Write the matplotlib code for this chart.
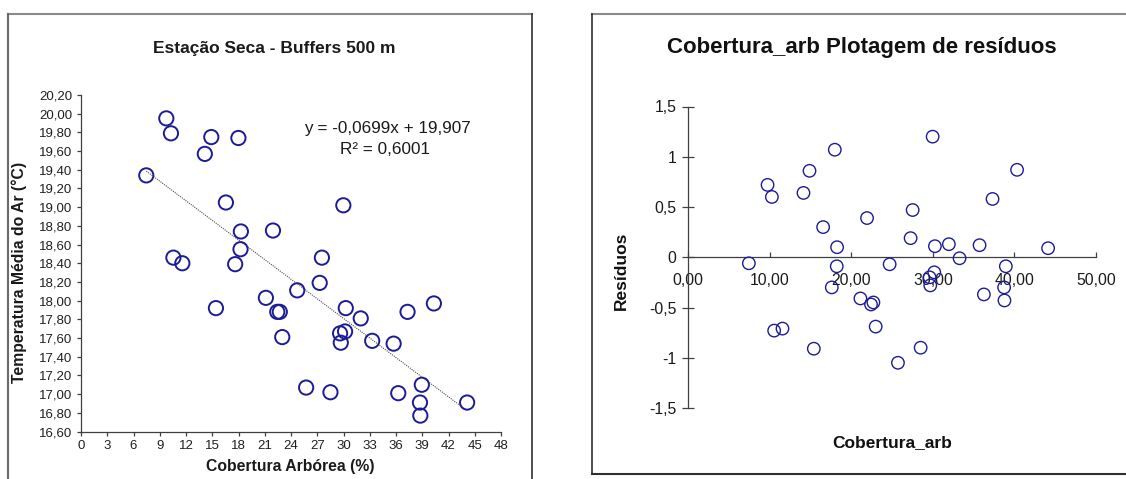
import matplotlib
matplotlib.use("Agg")
import matplotlib.pyplot as plt
from matplotlib.lines import Line2D
import numpy as np

plt.rcParams['font.family'] = ['Liberation Sans', 'DejaVu Sans']

# ---- data ----
cobertura = [9.75, 10.28, 14.89, 17.99, 14.15, 7.46, 16.56, 29.98, 18.27, 21.94,
             18.23, 10.56, 11.58, 17.62, 27.53, 27.28, 24.71, 21.13, 15.42, 22.43,
             22.72, 30.26, 31.97, 37.32, 40.33, 23.00, 29.61, 30.18, 29.69, 33.28,
             35.73, 25.73, 28.51, 36.26, 38.95, 38.74, 38.78, 44.13]
temperatura = [19.95, 19.79, 19.75, 19.74, 19.57, 19.34, 19.05, 19.02, 18.74, 18.75,
               18.55, 18.46, 18.40, 18.39, 18.46, 18.19, 18.11, 18.03, 17.92, 17.88,
               17.88, 17.92, 17.81, 17.88, 17.97, 17.61, 17.65, 17.67, 17.55, 17.57,
               17.54, 17.07, 17.02, 17.01, 17.10, 16.91, 16.77, 16.91]
residuos = [0.72, 0.60, 0.86, 1.07, 0.64, -0.06, 0.30, 1.20, 0.10, 0.39,
            -0.09, -0.73, -0.71, -0.30, 0.47, 0.19, -0.07, -0.41, -0.91, -0.47,
            -0.45, 0.11, 0.13, 0.58, 0.87, -0.69, -0.20, -0.15, -0.28, -0.01,
            0.12, -1.05, -0.90, -0.37, -0.09, -0.30, -0.43, 0.09]
trend_slope = -0.0699
trend_intercept = 19.907
left_xticks = list(range(0, 49, 3))
left_yticks = [16.6, 16.8, 17.0, 17.2, 17.4, 17.6, 17.8, 18.0, 18.2, 18.4,
               18.6, 18.8, 19.0, 19.2, 19.4, 19.6, 19.8, 20.0, 20.2]
right_xticks = [0, 10, 20, 30, 40, 50]
right_yticks = [-1.5, -1, -0.5, 0, 0.5, 1, 1.5]
right_yticklabels = ['-1,5', '-1', '-0,5', '0', '0,5', '1', '1,5']

W, H = 1126, 479
fig = plt.figure(figsize=(W / 100, H / 100), dpi=100)
fig.patch.set_facecolor('white')

def fx(px):
    return px / W

def fy(py):
    return 1 - py / H

navy = '#1c1c96'
axcol = '#404040'

# ---- panel frames ----
fig.add_artist(Line2D([fx(8), fx(532)], [fy(14), fy(14)], color='#8a8a8a', lw=1.5))
fig.add_artist(Line2D([fx(8), fx(8)], [fy(14), fy(480)], color='#6a6a6a', lw=1.5))
fig.add_artist(Line2D([fx(532), fx(532)], [fy(14), fy(480)], color='#303030', lw=1.2))
fig.add_artist(Line2D([fx(592), fx(1127)], [fy(14), fy(14)], color='#8a8a8a', lw=1.5))
fig.add_artist(Line2D([fx(592), fx(592)], [fy(14), fy(474)], color='#303030', lw=1.2))
fig.add_artist(Line2D([fx(592), fx(1127)], [fy(474), fy(474)], color='#303030', lw=1.5))

# ---- left chart ----
axL = fig.add_axes([fx(81), fy(431.5), fx(501) - fx(81), fy(95) - fy(431.5)])
axL.scatter(cobertura, temperatura, s=105, facecolors='none', edgecolors=navy,
            linewidths=1.4, zorder=3, clip_on=False)
xt = np.array([min(cobertura), max(cobertura)])
axL.plot(xt, trend_slope * xt + trend_intercept, linestyle=(0, (1, 1)),
         color='#505050', lw=0.8, zorder=2)
axL.set_xlim(0, 48)
axL.set_ylim(16.6, 20.2)
axL.set_xticks(left_xticks)
axL.set_xticklabels([str(v) for v in left_xticks])
axL.set_yticks(left_yticks)
axL.set_yticklabels([f"{v:.2f}".replace('.', ',') for v in left_yticks])
for s in ['top', 'right']:
    axL.spines[s].set_visible(False)
for s in ['left', 'bottom']:
    axL.spines[s].set_color(axcol)
    axL.spines[s].set_linewidth(0.9)
axL.tick_params(axis='both', direction='out', length=3, width=0.9, color=axcol,
                labelsize=9.5, labelcolor='#202020', pad=3)
fig.text(fx(274), fy(48), 'Estação Seca - Buffers 500 m', ha='center', va='center',
         fontsize=12.5, fontweight='bold', color='#1a1a1a')
fig.text(fx(290), fy(467), 'Cobertura Arbórea (%)', ha='center', va='center',
         fontsize=11.3, fontweight='bold', color='#1a1a1a')
fig.text(fx(19.5), fy(272), 'Temperatura Média do Ar (°C)', ha='center', va='center',
         rotation=90, fontsize=11.3, fontweight='bold', color='#1a1a1a')
fig.text(fx(387), fy(128), 'y = -0,0699x + 19,907', ha='center', va='center',
         fontsize=12.3, color='#1a1a1a')
fig.text(fx(385), fy(150), 'R² = 0,6001', ha='center', va='center',
         fontsize=12.3, color='#1a1a1a')

# ---- right chart ----
axR = fig.add_axes([fx(688), fy(408), fx(1096) - fx(688), fy(106.5) - fy(408)])
axR.scatter(cobertura, residuos, s=80, facecolors='none', edgecolors=navy,
            linewidths=1.0, zorder=3, clip_on=False)
axR.set_xlim(0, 50)
axR.set_ylim(-1.5, 1.5)
axR.spines['left'].set_position(('data', 0))
axR.spines['bottom'].set_position(('data', 0))
for s in ['top', 'right']:
    axR.spines[s].set_visible(False)
for s in ['left', 'bottom']:
    axR.spines[s].set_color(axcol)
    axR.spines[s].set_linewidth(0.9)
axR.set_xticks(right_xticks)
axR.set_xticklabels([f"{v:.2f}".replace('.', ',') for v in right_xticks])
axR.set_yticks(right_yticks)
axR.set_yticklabels(right_yticklabels)
axR.tick_params(axis='x', direction='in', length=3.5, width=0.9, color=axcol,
                labelsize=11.3, labelcolor='#1a1a1a', pad=11)
axR.tick_params(axis='y', direction='inout', length=9, width=0.9, color=axcol,
                labelsize=11.3, labelcolor='#1a1a1a', pad=4)
fig.text(fx(862), fy(48), 'Cobertura_arb Plotagem de resíduos', ha='center', va='center',
         fontsize=16, fontweight='bold', color='#111111')
fig.text(fx(892), fy(443), 'Cobertura_arb', ha='center', va='center',
         fontsize=12.5, fontweight='bold', color='#111111')
fig.text(fx(621.5), fy(271), 'Resíduos', ha='center', va='center', rotation=90,
         fontsize=12.5, fontweight='bold', color='#111111')

fig.savefig('out.png', dpi=100, facecolor='white')
